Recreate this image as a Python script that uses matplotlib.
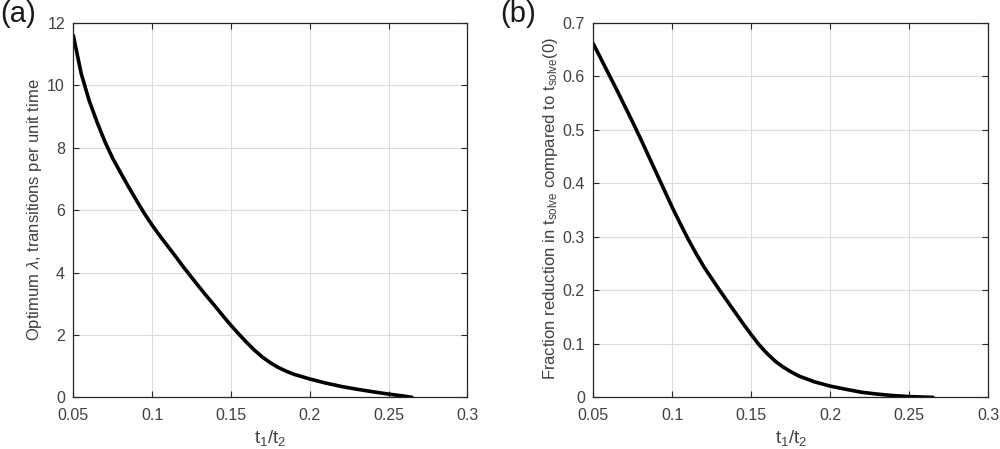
import matplotlib
matplotlib.use("Agg")
import matplotlib.pyplot as plt
from matplotlib.ticker import FuncFormatter

plt.rcParams['font.family'] = ['Liberation Sans', 'DejaVu Sans']
plt.rcParams['mathtext.fontset'] = 'custom'
plt.rcParams['mathtext.rm'] = 'Liberation Sans'
plt.rcParams['mathtext.it'] = 'Liberation Sans:italic'
plt.rcParams['mathtext.sf'] = 'Liberation Sans'

# Panel (a): optimum lambda vs t1/t2
ratio_a = [0.05, 0.055, 0.06, 0.065, 0.07, 0.075, 0.08, 0.085, 0.09, 0.095,
           0.10, 0.105, 0.11, 0.115, 0.12, 0.125, 0.13, 0.135, 0.14, 0.145,
           0.15, 0.155, 0.16, 0.165, 0.17, 0.175, 0.18, 0.185, 0.19, 0.20, 0.21,
           0.22, 0.23, 0.24, 0.25, 0.26, 0.265]
lam_a = [11.6, 10.38, 9.52, 8.83, 8.2, 7.66, 7.2, 6.75, 6.32, 5.9,
         5.52, 5.17, 4.84, 4.51, 4.17, 3.85, 3.53, 3.22, 2.92, 2.61,
         2.31, 2.03, 1.76, 1.51, 1.29, 1.11, 0.96, 0.84, 0.74, 0.59, 0.46,
         0.35, 0.26, 0.18, 0.105, 0.04, 0.0]

# Panel (b): fraction reduction vs t1/t2
ratio_b = [0.05, 0.055, 0.06, 0.065, 0.07, 0.075, 0.08, 0.085, 0.09, 0.095,
           0.10, 0.105, 0.11, 0.115, 0.12, 0.125, 0.13, 0.135, 0.14, 0.145,
           0.15, 0.155, 0.16, 0.165, 0.17, 0.175, 0.18, 0.19, 0.20, 0.21,
           0.22, 0.23, 0.24, 0.25, 0.26, 0.265]
frac_b = [0.661, 0.632, 0.603, 0.574, 0.544, 0.514, 0.483, 0.451, 0.419, 0.387,
          0.355, 0.325, 0.296, 0.269, 0.244, 0.222, 0.200, 0.179, 0.158, 0.137,
          0.117, 0.098, 0.082, 0.068, 0.057, 0.048, 0.040, 0.029, 0.021, 0.015,
          0.0095, 0.006, 0.0033, 0.0015, 0.0004, 0.0]

xticks = [0.05, 0.1, 0.15, 0.2, 0.25, 0.3]
yticks_a = [0, 2, 4, 6, 8, 10, 12]
yticks_b = [0, 0.1, 0.2, 0.3, 0.4, 0.5, 0.6, 0.7]

fig = plt.figure(figsize=(10, 4.49), dpi=100)
ax1 = fig.add_axes([0.0733, 0.115, 0.394, 0.834])
ax2 = fig.add_axes([0.5933, 0.115, 0.395, 0.834])

fmt = FuncFormatter(lambda v, p: ('%g' % round(v, 4)))
txtcol = '#404040'

for ax, xs, ys, yt in [(ax1, ratio_a, lam_a, yticks_a), (ax2, ratio_b, frac_b, yticks_b)]:
    ax.plot(xs, ys, color='black', lw=2.6, solid_capstyle='round', solid_joinstyle='round')
    ax.set_xlim(0.05, 0.3)
    ax.set_ylim(yt[0], yt[-1])
    ax.set_xticks(xticks)
    ax.set_yticks(yt)
    ax.xaxis.set_major_formatter(fmt)
    ax.yaxis.set_major_formatter(fmt)
    ax.grid(True, color='#dcdcdc', lw=0.8)
    ax.set_axisbelow(True)
    ax.tick_params(direction='in', top=True, right=True, length=4, width=0.8,
                   labelsize=11.5, colors='#262626', labelcolor=txtcol)
    ax.tick_params(axis='x', pad=8)
    ax.tick_params(axis='y', pad=6)
    for s in ax.spines.values():
        s.set_color('#262626')
        s.set_linewidth(0.9)
    ax.set_xlabel('t$_1$/t$_2$', fontsize=13.5, color=txtcol, labelpad=3)

ax1.set_ylabel('Optimum $\\lambda$, transitions per unit time', fontsize=12, color=txtcol)
ax1.yaxis.set_label_coords(-0.074, 0.5)
ax2.set_ylabel('Fraction reduction in t$_{\\rm solve}$ compared to t$_{\\rm solve}$(0)', fontsize=12, color=txtcol)
ax2.yaxis.set_label_coords(-0.084, 0.505)

fig.text(0.0, 1.0, '(a)', fontsize=21, ha='left', va='top', color='#1a1a1a')
fig.text(0.5, 1.0, '(b)', fontsize=21, ha='left', va='top', color='#1a1a1a')

fig.savefig('out.png', dpi=100)
